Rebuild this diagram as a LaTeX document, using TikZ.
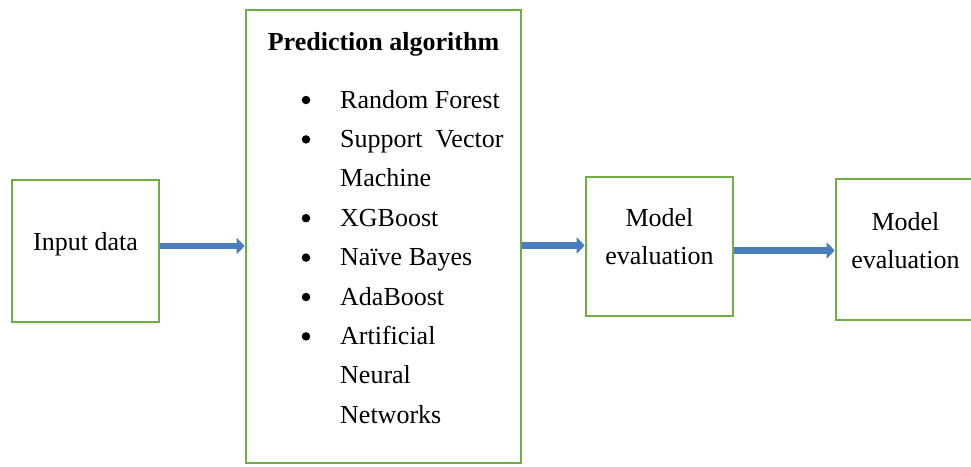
\documentclass[tikz,border=0pt]{standalone}
\usepackage{fontspec}
\setmainfont{Liberation Serif}
\usetikzlibrary{arrows.meta}
\definecolor{boxgreen}{HTML}{70AD47}
\definecolor{arrblue}{HTML}{4A7EBB}
\begin{document}
\begin{tikzpicture}[x=1pt,y=-1pt,
  box/.style={draw=boxgreen,line width=2.6pt,rectangle,inner sep=0pt},
  txt/.style={align=center,inner sep=0pt,font=\fontsize{26}{38}\selectfont},
  arr/.style={draw=arrblue,line width=6.5pt,-{Triangle[length=8pt,width=16pt]}},
  item/.style={anchor=base west,inner sep=0pt,font=\fontsize{26}{30}\selectfont},
  dot/.style={circle,fill=black,inner sep=0pt,minimum size=8.5pt}]
\useasboundingbox (0,0) rectangle (971,466);
\node[box,minimum width=147pt,minimum height=142pt] (in) at (85.5,251) {};
\node[box,minimum width=275pt,minimum height=453pt] (pred) at (383.5,236.5) {};
\node[box,minimum width=147pt,minimum height=139pt] (mod1) at (659.5,246.5) {};
\node[box,minimum width=139pt,minimum height=141pt] (mod2) at (905.5,249.5) {};
\node[txt] (intxt) at (85.5,244) {Input data};
\node[txt] (m1txt) at (659.5,237) {Model\\evaluation};
\node[txt] (m2txt) at (905.5,241) {Model\\evaluation};
\node[anchor=base,inner sep=0pt,font=\fontsize{26}{30}\selectfont\bfseries] (title) at (383.5,50) {Prediction algorithm};
\node[item] (i1) at (340,108) {Random Forest};
\node[item] (i2) at (340,147.4) {Support\hspace{0.5em}Vector};
\node[item] (i2b) at (340,186.8) {Machine};
\node[item] (i3) at (340,226.2) {XGBoost};
\node[item] (i4) at (340,265.6) {Naïve Bayes};
\node[item] (i5) at (340,305) {AdaBoost};
\node[item] (i6) at (340,344.4) {Artificial};
\node[item] (i6b) at (340,383.8) {Neural};
\node[item] (i6c) at (340,423.2) {Networks};
\node[dot] (d1) at (306,100) {};
\node[dot] (d2) at (306,139.4) {};
\node[dot] (d3) at (306,218.2) {};
\node[dot] (d4) at (306,257.6) {};
\node[dot] (d5) at (306,297) {};
\node[dot] (d6) at (306,336.4) {};
\draw[arr] ([yshift=5pt]in.east) -- ([yshift=5pt]in.east -| pred.west);
\draw[arr] ([yshift=1pt]mod1.west -| pred.east) -- ([yshift=1pt]mod1.west);
\draw[arr] ([yshift=-1pt]mod2.west -| mod1.east) -- ([yshift=-1pt]mod2.west);
\end{tikzpicture}
\end{document}
